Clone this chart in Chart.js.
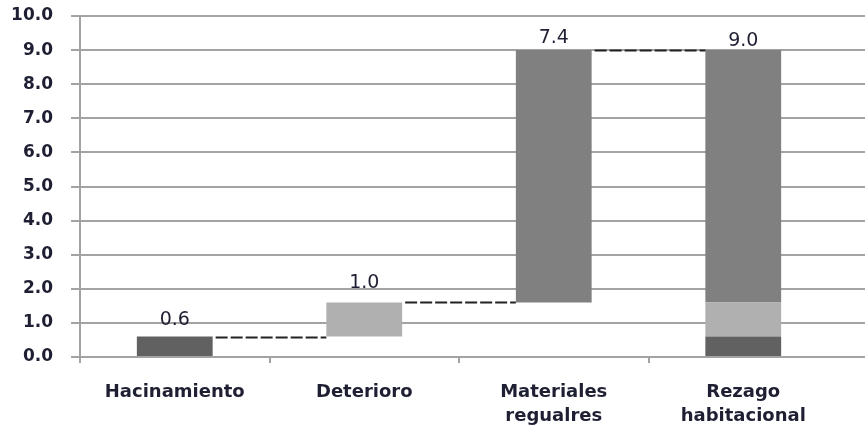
<!DOCTYPE html>
<html>
<head>
<meta charset="utf-8">
<script src="https://cdn.jsdelivr.net/npm/chart.js@4"></script>
<style>
  html, body { margin: 0; padding: 0; background: #ffffff; }
  #wrap { width: 865px; height: 429px; position: relative; }
</style>
</head>
<body>
<div id="wrap"><canvas id="c" width="865" height="429"></canvas></div>
<script>
// Categories of the housing-lag breakdown
const categories = ['Hacinamiento', 'Deterioro', ['Materiales', 'regualres'], ['Rezago', 'habitacional']];
// Contribution of each component (waterfall steps)
const components = [0.6, 1.0, 7.4];
// Total housing lag
const total = 9.0;
// Y-axis tick range
const yMin = 0, yMax = 10, yStep = 1;

const componentColors = ['#616161', '#b0b0b0', '#808080'];
const textColor = '#1f1f33';
const gridColor = '#a3a3a3';

// Running levels: 0, 0.6, 1.6, 9.0
const levels = [0];
components.forEach((v, i) => levels.push(Math.round((levels[i] + v) * 10) / 10));

// One dataset per component: its floating step plus its slice of the total bar
const datasets = components.map((v, i) => {
  const data = categories.map(() => null);
  data[i] = [levels[i], levels[i + 1]];
  data[categories.length - 1] = [levels[i], levels[i + 1]];
  return {
    label: Array.isArray(categories[i]) ? categories[i].join(' ') : categories[i],
    data,
    backgroundColor: componentColors[i],
    borderWidth: 0,
    barPercentage: 0.4,
    categoryPercentage: 1.0
  };
});

const valueLabels = components.concat([total]);

// Dashed step connectors between consecutive bars
const connectors = {
  id: 'connectors',
  afterDatasetsDraw(chart) {
    const ctx = chart.ctx;
    const y = chart.scales.y;
    ctx.save();
    ctx.strokeStyle = '#222222';
    ctx.lineWidth = 2;
    ctx.setLineDash([12, 3]);
    for (let i = 0; i < components.length; i++) {
      const a = chart.getDatasetMeta(i).data[i];
      const nextDs = Math.min(i + 1, components.length - 1);
      const b = chart.getDatasetMeta(nextDs).data[i + 1];
      const py = Math.round(y.getPixelForValue(levels[i + 1])) + 0.5;
      ctx.beginPath();
      ctx.moveTo(a.x + a.width / 2 + 3, py);
      ctx.lineTo(b.x - b.width / 2, py);
      ctx.stroke();
    }
    ctx.restore();
  }
};

// Value labels above each bar (labels near the top sit a little closer)
const labelGap = [12, 14, 7, 4];
const valueLabelPlugin = {
  id: 'valueLabels',
  afterDatasetsDraw(chart) {
    const ctx = chart.ctx;
    const y = chart.scales.y;
    ctx.save();
    ctx.font = '19px "DejaVu Sans"';
    ctx.fillStyle = textColor;
    ctx.textAlign = 'center';
    ctx.textBaseline = 'alphabetic';
    valueLabels.forEach((v, i) => {
      const ds = Math.min(i, components.length - 1);
      const bar = chart.getDatasetMeta(ds).data[i];
      const top = i < components.length ? levels[i + 1] : total;
      ctx.fillText(v.toFixed(1), bar.x, y.getPixelForValue(top) - labelGap[i]);
    });
    ctx.restore();
  }
};

// Horizontal gridlines continue to the right edge of the canvas
const gridExtend = {
  id: 'gridExtend',
  beforeDatasetsDraw(chart) {
    const ctx = chart.ctx;
    const y = chart.scales.y;
    ctx.save();
    ctx.strokeStyle = gridColor;
    ctx.lineWidth = 2;
    y.ticks.forEach(t => {
      const py = Math.round(y.getPixelForValue(t.value));
      ctx.beginPath();
      ctx.moveTo(chart.chartArea.right - 1, py);
      ctx.lineTo(chart.width, py);
      ctx.stroke();
    });
    ctx.restore();
  }
};

new Chart(document.getElementById('c'), {
  type: 'bar',
  data: { labels: categories, datasets },
  options: {
    responsive: false,
    animation: false,
    layout: { padding: { top: 16, right: 27, bottom: 0, left: 0 } },
    plugins: { legend: { display: false }, tooltip: { enabled: false } },
    scales: {
      x: {
        stacked: true,
        offset: true,
        grid: {
          offset: true,
          drawOnChartArea: false,
          drawTicks: true,
          tickLength: 6,
          lineWidth: 2,
          // no tick mark after the last category
          color: c => (c.type === 'tick' ? gridColor : 'rgba(0,0,0,0)')
        },
        border: { display: false },
        ticks: {
          color: textColor,
          font: { family: 'DejaVu Sans', size: 18, weight: 'bold', lineHeight: 1.35 },
          padding: 17,
          maxRotation: 0,
          autoSkip: false
        },
        afterFit(s) { s.height = 72; s.paddingLeft = 0; s.paddingRight = 0; }
      },
      y: {
        stacked: false,
        min: yMin,
        max: yMax,
        grid: { color: gridColor, lineWidth: 2, tickLength: 9 },
        border: { display: true, color: gridColor, width: 2 },
        ticks: {
          stepSize: yStep,
          color: textColor,
          font: { family: 'DejaVu Sans', size: 17, weight: 'bold' },
          padding: 18,
          callback: v => Number(v).toFixed(1)
        },
        afterFit(s) { s.width = 80; s.paddingTop = 0; s.paddingBottom = 0; }
      }
    }
  },
  plugins: [gridExtend, connectors, valueLabelPlugin]
});
</script>
</body>
</html>
